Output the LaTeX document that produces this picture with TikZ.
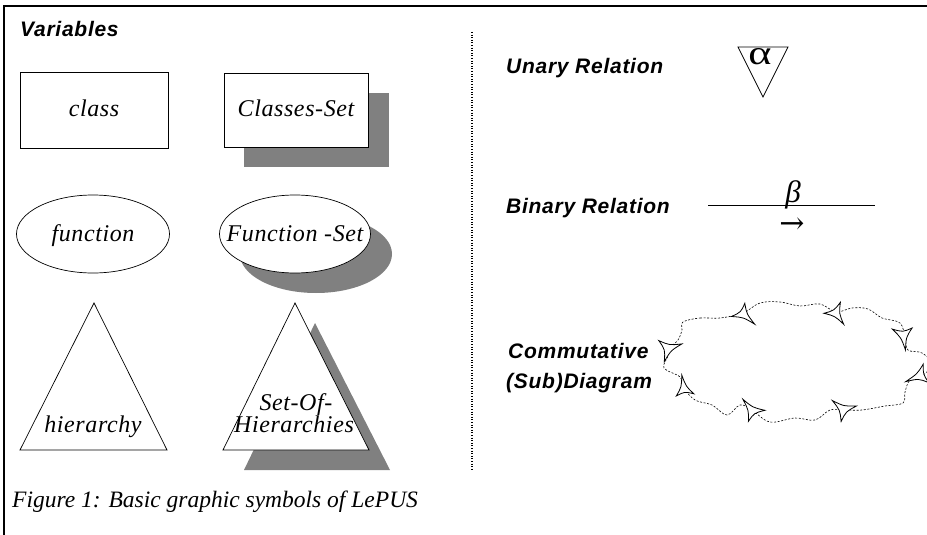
\documentclass[tikz,border=0pt]{standalone}
\usepackage{fontspec}
\setmainfont{Liberation Serif}
\setsansfont{Liberation Sans}
\newfontfamily\arrowfont{DejaVu Serif}
\usetikzlibrary{shapes.geometric}
\definecolor{shadowgray}{RGB}{128,128,128}

% concave three-pointed tip drawn on the diagram outline:
% #1,#2 centre, #3..#8 the three corners relative to it
\newcommand\cusptip[8]{%
  \begin{scope}[shift={(#1,#2)}, scale=1.1]
    \draw[tipline] (#3,#4)
      .. controls ({(#3+#5)/4},{(#4+#6)/4}) .. (#5,#6)
      .. controls ({(#5+#7)/4},{(#6+#8)/4}) .. (#7,#8)
      .. controls ({(#7+#3)/4},{(#8+#4)/4}) .. (#3,#4) -- cycle;
  \end{scope}}

\begin{document}
\begin{tikzpicture}[x=1pt,y=-1pt,
  outline/.style={draw, line width=0.7pt, fill=white},
  symbox/.style={outline, rectangle, inner sep=0pt},
  symoval/.style={outline, ellipse, inner sep=0pt,
    minimum width=153pt, minimum height=78pt},
  symtext/.style={inner sep=0pt, font=\fontsize{24}{26}\selectfont\itshape\addfontfeatures{LetterSpace=2.5}},
  heading/.style={anchor=base west, inner sep=0pt,
    font=\fontsize{21}{24}\selectfont\sffamily\bfseries\itshape\addfontfeatures{LetterSpace=3.5}},
  tipline/.style={solid, line width=0.8pt, fill=white, line join=miter},
  cloudline/.style={line width=0.6pt, dash pattern=on 2pt off 1.6pt}
]
\useasboundingbox (0,0) rectangle (927,535);

% frame
\draw[line width=2pt] (4,535) -- (4,6) -- (927,6);

% separator
\draw[line width=1.1pt, dash pattern=on 1pt off 1.6pt] (472,32) -- (472,470);

% ---------- variables ----------
\node[heading] (vars) at (20,37) {Variables};

% shadows
\fill[shadowgray] (244,93) rectangle (389,167);
\fill[shadowgray] (316,254) ellipse [x radius=76, y radius=39];
\fill[shadowgray] (315,323) -- (390,470) -- (244,470) -- cycle;

\node[symbox, minimum width=148pt, minimum height=76pt] (class) at (94,110) {};
\node[symtext, anchor=base] (classlbl) at (94,117) {class};

\node[symbox, minimum width=144pt, minimum height=74pt] (classes) at (296,110) {};
\node[symtext, anchor=base] (classeslbl) at (296,117) {Classes-Set};

\node[symoval] (func) at (93,234) {};
\node[symtext, anchor=base] (funclbl) at (93,241) {function};

\node[symoval, minimum width=151pt] (funcs) at (295,234) {};
\node[symtext, anchor=base] (funcslbl) at (295,241) {Function -Set};

\coordinate (hA) at (94,303);
\coordinate (hB) at (167,450);
\coordinate (hC) at (20,450);
\draw[outline] (hA) -- (hB) -- (hC) -- cycle;
\node[symtext, anchor=base] (hier) at (93,432) {hierarchy};

\coordinate (sA) at (295,303);
\coordinate (sB) at (369,450);
\coordinate (sC) at (223,450);
\draw[outline] (sA) -- (sB) -- (sC) -- cycle;
\node[symtext, anchor=base] (soh1) at (296,410) {Set-Of-};
\node[symtext, anchor=base] (soh2) at (294,432) {Hierarchies};

\node[anchor=base west, inner sep=0pt, font=\fontsize{23.5}{26}\selectfont\itshape]
  (caption) at (12,507) {Figure 1: Basic graphic symbols of LePUS};

% ---------- relations ----------
\node[heading] (unary) at (506,74) {Unary Relation};
\coordinate (uA) at (738,47);
\coordinate (uB) at (788,47);
\coordinate (uC) at (763,97);
\draw[line width=0.7pt] (uA) -- (uB) -- (uC) -- cycle;
\node[anchor=base, inner sep=0pt, xscale=1.3, font=\fontsize{34}{34}\selectfont] (alpha) at (760,65) {α};

\node[heading] (binary) at (506,213) {Binary Relation};
\coordinate (bL) at (708,205);
\coordinate (bR) at (875,205);
\draw[line width=0.7pt] (bL) -- (bR);
\node[anchor=base, inner sep=0pt, font=\fontsize{31}{32}\selectfont\itshape] (beta) at (793,202) {β};
\node[anchor=base, inner sep=0pt, font=\fontsize{30}{32}\selectfont\arrowfont] (arrow) at (792,233) {→};

\node[heading] (comm) at (508,358) {Commutative};
\node[heading] (sub) at (506,388) {(Sub)Diagram};

% wavy outline of the commutative diagram
\draw[cloudline] plot[smooth cycle, tension=0.6] coordinates {
  (683,322) (700,318) (720,318) (743,313) (760,303) (780,302) (800,306)
  (820,304) (836,312) (852,308) (868,309) (882,318) (900,323) (905,338)
  (908,350) (922,353) (932,364) (922,376) (910,380) (905,392) (903,403)
  (885,406) (862,410) (845,410) (830,410) (815,420) (795,418) (770,422)
  (752,410) (740,405) (727,415) (712,405) (695,400) (684,388) (680,377)
  (664,368) (668,356) (670,348) (678,340) (682,330)};

\cusptip{743.7}{314.3}{-11}{2}{1}{-10}{10}{9}
\cusptip{836}{313.3}{-11}{0}{4}{-10}{7}{10}
\cusptip{903.3}{335.7}{-10}{-6}{8}{-7}{2}{13}
\cusptip{920}{375}{-13}{6}{3}{-10}{8}{7}
\cusptip{843.3}{409.3}{-10}{-8}{12}{-3}{-2}{11}
\cusptip{751.7}{410.3}{-8}{-10}{12}{0}{-3}{10}
\cusptip{668.7}{348.3}{-9}{-7}{12}{-4}{-4}{12}
\cusptip{684}{388.3}{-2}{-12}{-7}{7}{9}{5}
\end{tikzpicture}
\end{document}
